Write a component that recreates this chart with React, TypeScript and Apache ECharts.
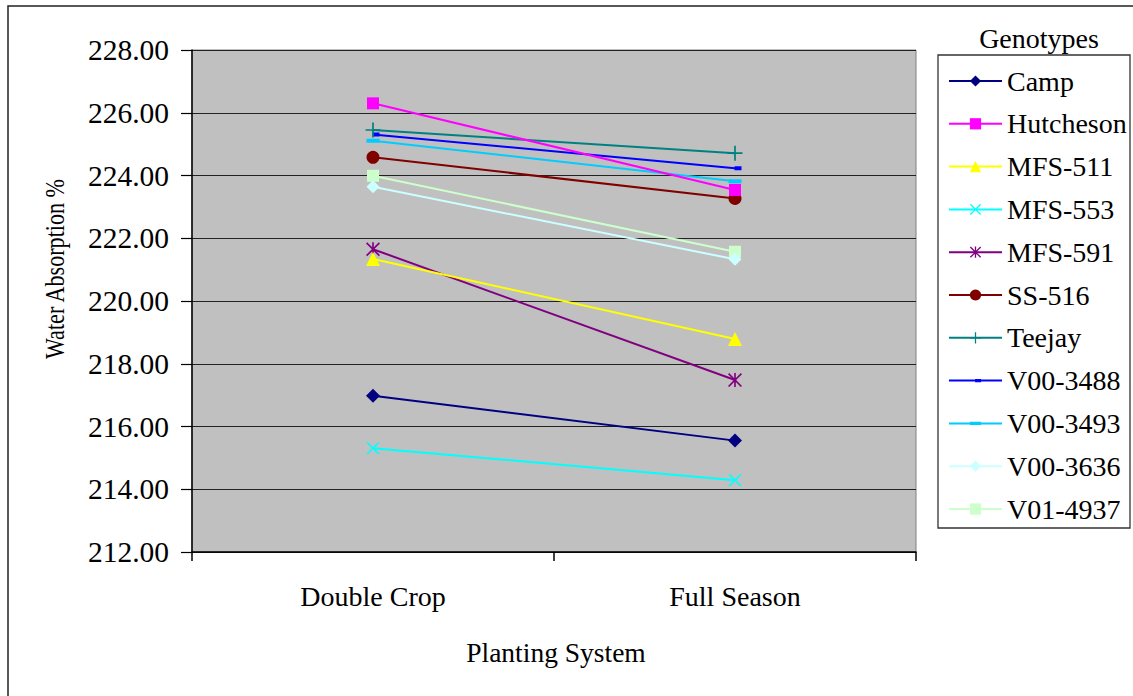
import React, { useEffect, useRef } from 'react';
import * as echarts from 'echarts';

const categories = ['Double Crop', 'Full Season'];
const genotypes = ['Camp', 'Hutcheson', 'MFS-511', 'MFS-553', 'MFS-591', 'SS-516', 'Teejay', 'V00-3488', 'V00-3493', 'V00-3636', 'V01-4937'];

const camp = [216.98, 215.55];
const hutcheson = [226.3, 223.54];
const mfs511 = [221.34, 218.79];
const mfs553 = [215.31, 214.29];
const mfs591 = [221.65, 217.48];
const ss516 = [224.58, 223.27];
const teejay = [225.45, 224.71];
const v003488 = [225.31, 224.23];
const v003493 = [225.11, 223.82];
const v003636 = [223.64, 221.33];
const v014937 = [223.99, 221.57];

const yMin = 212;
const yMax = 228;
const yStep = 2;

const FONT = 'Liberation Serif';

const X_PATH = 'path://M0,1L1,0L6,5L11,0L12,1L7,6L12,11L11,12L6,7L1,12L0,11L5,6Z';
const STAR_PATH = 'path://M0,1L1,0L6,5L11,0L12,1L7,6L12,11L11,12L6,7L1,12L0,11L5,6Z M5.3,0L6.7,0L6.7,12L5.3,12Z';
const PLUS_PATH = 'path://M6.2,0L7.8,0L7.8,6.2L14,6.2L14,7.8L7.8,7.8L7.8,14L6.2,14L6.2,7.8L0,7.8L0,6.2L6.2,6.2Z';
const SHORT_DASH = 'path://M0,0L0.01,0L0,0.01Z M13,13L12.99,13L13,12.99Z M6,4.5L13,4.5L13,8.5L6,8.5Z';
const LONG_DASH = 'path://M0,0L0.01,0L0,0.01Z M13,13L12.99,13L13,12.99Z M0,4.5L13,4.5L13,8.5L0,8.5Z';

const seriesValues = [camp, hutcheson, mfs511, mfs553, mfs591, ss516, teejay, v003488, v003493, v003636, v014937];
const seriesColors = ['#000080', '#FF00FF', '#FFFF00', '#00FFFF', '#800080', '#800000', '#008080', '#0000FF', '#00CCFF', '#CCFFFF', '#CCFFCC'];
const seriesSymbols = ['diamond', 'rect', 'triangle', X_PATH, STAR_PATH, 'circle', PLUS_PATH, SHORT_DASH, LONG_DASH, 'diamond', 'rect'];
const seriesSymbolSizes = [14, 12, 14, 13, 14, 13, 15, 13, 13, 13, 12];

export default function App() {
  const ref = useRef<HTMLDivElement>(null);
  useEffect(() => {
    if (!ref.current) return;
    const chart = echarts.init(ref.current, null, { renderer: 'svg' });
    const series = genotypes.map((name, i) => ({
      name,
      type: 'line',
      data: seriesValues[i],
      symbol: seriesSymbols[i],
      symbolSize: seriesSymbolSizes[i],
      lineStyle: { color: seriesColors[i], width: 2 },
      itemStyle: { color: seriesColors[i] },
      emphasis: { disabled: true },
      z: 3 + (genotypes.length - i) * 0.01,
    }));
    chart.setOption({
      animation: false,
      backgroundColor: '#ffffff',
      textStyle: { fontFamily: FONT },
      grid: {
        left: 192,
        top: 50,
        right: 1133 - 916,
        bottom: 696 - 552,
        show: true,
        backgroundColor: '#C0C0C0',
        borderColor: '#808080',
        borderWidth: 1,
      },
      xAxis: {
        type: 'category',
        data: categories,
        boundaryGap: true,
        axisLine: { show: true, lineStyle: { color: '#000', width: 1.5 } },
        axisTick: { show: true, length: 9, lineStyle: { color: '#000', width: 1.5 } },
        axisLabel: { margin: 30, fontSize: 28, color: '#000', fontFamily: FONT },
        splitLine: { show: false },
      },
      yAxis: {
        type: 'value',
        min: yMin,
        max: yMax,
        interval: yStep,
        axisLine: { show: true, lineStyle: { color: '#000', width: 1.5 } },
        axisTick: { show: true, length: 11, lineStyle: { color: '#000', width: 1.2 } },
        axisLabel: {
          margin: 23,
          fontSize: 29.5,
          color: '#000',
          fontFamily: FONT,
          formatter: (v: number) => v.toFixed(2),
        },
        splitLine: { show: true, lineStyle: { color: '#222', width: 1.2 } },
      },
      legend: {
        orient: 'vertical',
        left: 948,
        top: 67,
        padding: 0,
        itemWidth: 53,
        itemHeight: 14,
        itemGap: 14.8,
        selectedMode: false,
        data: genotypes,
        textStyle: { fontSize: 28, lineHeight: 28, color: '#000', fontFamily: FONT },
      },
      graphic: [
        {
          type: 'rect',
          shape: { x: 8, y: 6, width: 1200, height: 800 },
          style: { fill: 'none', stroke: '#222', lineWidth: 1.5 },
          silent: true,
        },
        {
          type: 'rect',
          shape: { x: 938, y: 55, width: 192, height: 473 },
          style: { fill: 'none', stroke: '#333', lineWidth: 1.3 },
          silent: true,
        },
        {
          type: 'text',
          x: 1039,
          y: 38,
          style: { text: 'Genotypes', fontSize: 28, fontFamily: FONT, fill: '#000', textAlign: 'center', textVerticalAlign: 'middle' },
        },
        {
          type: 'text',
          x: 556,
          y: 652,
          style: { text: 'Planting System', fontSize: 27.5, fontFamily: FONT, fill: '#000', textAlign: 'center', textVerticalAlign: 'middle' },
        },
        {
          type: 'text',
          x: 55,
          y: 269,
          rotation: Math.PI / 2,
          scaleX: 0.79,
          style: { text: 'Water Absorption %', fontSize: 28, fontFamily: FONT, fill: '#000', textAlign: 'center', textVerticalAlign: 'middle' },
        },
      ],
      series,
    });
    return () => chart.dispose();
  }, []);
  return (
    <div
      ref={ref}
      style={{ position: 'fixed', left: 0, top: 0, width: 1133, height: 696, background: '#fff' }}
    />
  );
}
